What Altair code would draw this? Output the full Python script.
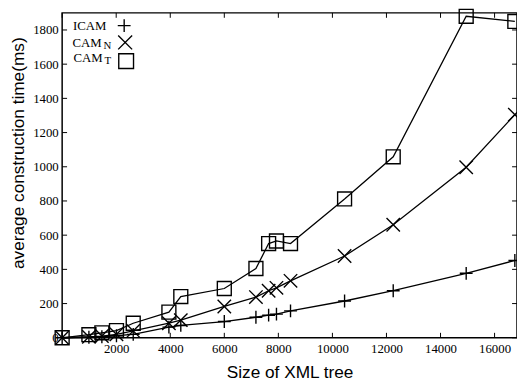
import altair as alt
import pandas as pd

sizes = [0, 990, 1470, 2010, 2630, 3950, 4390, 6000, 7170, 7640, 7930, 8450, 10450, 12250, 14950, 16750]
icam = [0, 3, 6, 12, 20, 62, 72, 95, 120, 132, 138, 157, 215, 275, 377, 452]
cam_n = [0, 5, 10, 20, 40, 85, 103, 183, 238, 275, 292, 333, 478, 661, 997, 1305]
cam_t = [0, 18, 29, 42, 85, 150, 241, 288, 405, 551, 566, 551, 812, 1058, 1880, 1850]
series_names = ["ICAM", "CAM_N", "CAM_T"]
x_ticks = [0, 2000, 4000, 6000, 8000, 10000, 12000, 14000, 16000]
y_ticks = [0, 200, 400, 600, 800, 1000, 1200, 1400, 1600, 1800]

W, H = 462, 330
X_MAX, Y_MAX = 16830, 1900

PLUS = "M-1,0L1,0M0,-1L0,1"
XMARK = "M-1,-1L1,1M-1,1L1,-1"
SQUARE = "M-1,-1L1,-1L1,1L-1,1Z"

rows = []
for name, vals in zip(series_names, [icam, cam_n, cam_t]):
    for s, v in zip(sizes, vals):
        rows.append({"size": s, "time": v, "series": name})
df = pd.DataFrame(rows)

xs = alt.Scale(domain=[0, X_MAX], nice=False, zero=False)
ys = alt.Scale(domain=[0, Y_MAX], nice=False)

xaxis = alt.Axis(values=x_ticks[1:], title="Size of XML tree", ticks=False, domain=False,
                 grid=False, labelPadding=5, titlePadding=8, format="d", labelOverlap=False)
yaxis = alt.Axis(values=y_ticks, title="average construction time(ms)", ticks=False, domain=False,
                 grid=False, labelPadding=4, format="d", labelOverlap=False,
                 titleX=-35, titleY=142, titleAlign="center", titleAngle=270, titleBaseline="bottom")

base = alt.Chart(df)
lines = base.mark_line(color="black", strokeWidth=1.3).encode(
    x=alt.X("size:Q", scale=xs, axis=xaxis),
    y=alt.Y("time:Q", scale=ys, axis=yaxis),
    detail="series:N",
    order="size:Q",
)
points = base.mark_point(filled=False, color="black", strokeWidth=1.4, opacity=1).encode(
    x=alt.X("size:Q", scale=xs, axis=xaxis),
    y=alt.Y("time:Q", scale=ys, axis=yaxis),
    shape=alt.Shape("series:N", scale=alt.Scale(domain=series_names, range=[PLUS, XMARK, SQUARE]), legend=None),
    size=alt.Size("series:N", scale=alt.Scale(domain=series_names, range=[170, 200, 225]), legend=None),
)

xt = pd.DataFrame({"v": x_ticks})
yt = pd.DataFrame({"v": y_ticks})
tick_style = dict(color="black", strokeWidth=1)
xt_bottom = alt.Chart(xt).mark_rule(**tick_style).encode(x=alt.X("v:Q", scale=xs, axis=xaxis), y=alt.value(H), y2=alt.value(H - 5))
xt_top = alt.Chart(xt).mark_rule(**tick_style).encode(x=alt.X("v:Q", scale=xs, axis=xaxis), y=alt.value(0), y2=alt.value(5))
yt_left = alt.Chart(yt).mark_rule(**tick_style).encode(y=alt.Y("v:Q", scale=ys, axis=yaxis), x=alt.value(0), x2=alt.value(5))
yt_right = alt.Chart(yt).mark_rule(**tick_style).encode(y=alt.Y("v:Q", scale=ys, axis=yaxis), x=alt.value(W - 5), x2=alt.value(W))

# legend
leg = pd.DataFrame({"main": ["ICAM", "CAM", "CAM"], "sub": ["", "N", "T"],
                    "mx": [45, 40, 41], "sx": [43, 42, 43],
                    "ty": [13, 31, 46]})
leg_main = alt.Chart(leg).mark_text(font="Liberation Serif", fontSize=13, align="right", baseline="middle",
                                    color="black").encode(
    text="main:N", x=alt.X("mx:Q", scale=None), y=alt.Y("ty:Q", scale=None))
leg_sub = alt.Chart(leg).mark_text(font="Liberation Serif", fontSize=11, align="left", baseline="middle",
                                   color="black", dy=3).encode(
    text="sub:N", x=alt.X("sx:Q", scale=None), y=alt.Y("ty:Q", scale=None))
lp = alt.Chart(pd.DataFrame({"k": [0]}))
lm1 = lp.mark_point(shape=PLUS, size=170, filled=False, color="black", strokeWidth=1.4, opacity=1).encode(
    x=alt.value(63), y=alt.value(13))
lm2 = lp.mark_point(shape=XMARK, size=200, filled=False, color="black", strokeWidth=1.4, opacity=1).encode(
    x=alt.value(64), y=alt.value(30))
lm3 = lp.mark_point(shape=SQUARE, size=225, filled=False, color="black", strokeWidth=1.4, opacity=1).encode(
    x=alt.value(65), y=alt.value(49))

chart = alt.layer(
    lines, points, xt_bottom, xt_top, yt_left, yt_right, leg_main, leg_sub, lm1, lm2, lm3
).properties(
    width=W, height=H,
    autosize=alt.AutoSizeParams(type="none"),
    padding={"left": 55, "top": 2, "right": 0, "bottom": 43},
).configure(background="white").configure_view(stroke="black", strokeWidth=1.5).configure_axis(
    labelFont="Liberation Serif", labelFontSize=13, labelColor="black",
    titleFont="Liberation Sans", titleFontSize=17.5, titleFontWeight="normal", titleColor="black",
)

chart.save("out.html", embed_options={"renderer": "svg", "actions": False})
